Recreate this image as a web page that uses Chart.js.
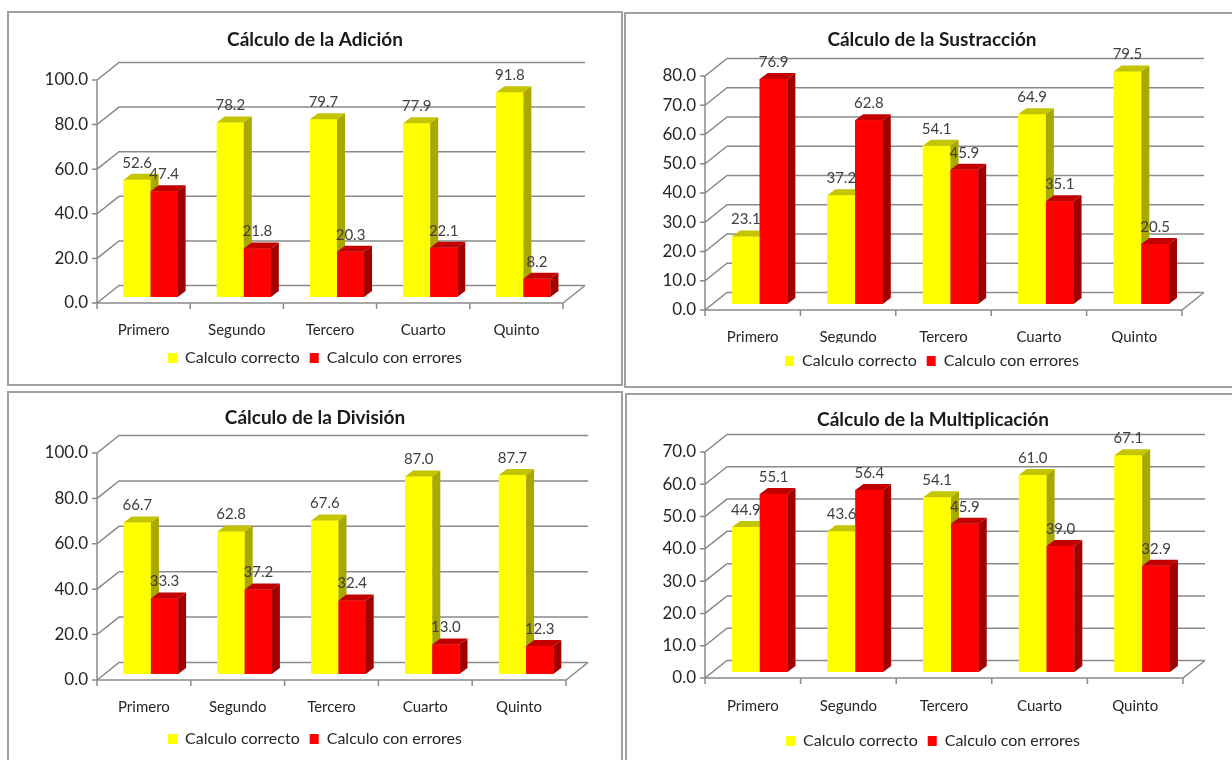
<!DOCTYPE html>
<html>
<head>
<meta charset="utf-8">
<script src="https://cdn.jsdelivr.net/npm/chart.js@4.4.1/dist/chart.umd.min.js"></script>
<style>
  html, body { margin: 0; padding: 0; background: #fff; overflow: hidden; }
  body { width: 1232px; height: 760px; position: relative; }
  .panel { position: absolute; box-sizing: border-box; border: 2px solid #a0a0a0; background: #fff; }
  .panel canvas { position: absolute; left: 0; top: 0; }
</style>
</head>
<body>
<div class="panel" id="p1"><canvas id="c1"></canvas></div>
<div class="panel" id="p2"><canvas id="c2"></canvas></div>
<div class="panel" id="p3"><canvas id="c3"></canvas></div>
<div class="panel" id="p4"><canvas id="c4"></canvas></div>
<script>
// data
var categories = ["Primero", "Segundo", "Tercero", "Cuarto", "Quinto"];
var seriesNames = ["Calculo correcto", "Calculo con errores"];

var adicionCorrecto = [52.6, 78.2, 79.7, 77.9, 91.8];
var adicionErrores = [47.4, 21.8, 20.3, 22.1, 8.2];
var adicionTicks = [0, 20, 40, 60, 80, 100];

var sustraccionCorrecto = [23.1, 37.2, 54.1, 64.9, 79.5];
var sustraccionErrores = [76.9, 62.8, 45.9, 35.1, 20.5];
var sustraccionTicks = [0, 10, 20, 30, 40, 50, 60, 70, 80];

var divisionCorrecto = [66.7, 62.8, 67.6, 87.0, 87.7];
var divisionErrores = [33.3, 37.2, 32.4, 13.0, 12.3];
var divisionTicks = [0, 20, 40, 60, 80, 100];

var multiplicacionCorrecto = [44.9, 43.6, 54.1, 61.0, 67.1];
var multiplicacionErrores = [55.1, 56.4, 45.9, 39.0, 32.9];
var multiplicacionTicks = [0, 10, 20, 30, 40, 50, 60, 70];

// colours: front, top, side
var faceColors = [
  { front: "#FFFF00", top: "#c4c400", side: "#a8a800" },
  { front: "#FF0000", top: "#c20000", side: "#a00000" }
];

// 3d offsets relative to the bar plane (chart area)
var depth = { fx: -7, fy: 6, bx: 15, by: -11.5, dx: 8, dy: -6 };

Chart.defaults.font.family = "Lato, 'Liberation Sans', sans-serif";

var frame3d = {
  id: "frame3d",
  beforeDatasetsDraw: function (chart) {
    var ctx = chart.ctx, a = chart.chartArea;
    var xs = chart.scales.x, ys = chart.scales.y;
    var n = chart.data.labels.length;
    var fl = a.left + depth.fx, fr = a.right + depth.fx;
    var bl = a.left + depth.bx, br = a.right + depth.bx;
    var y0 = ys.getPixelForValue(0), yt = ys.getPixelForValue(ys.max);
    ctx.save();
    ctx.strokeStyle = "#8a8a8a";
    ctx.lineWidth = 1.5;
    ctx.beginPath();
    ys.ticks.forEach(function (t) {
      var py = ys.getPixelForValue(t.value);
      ctx.moveTo(fl - 5, py + depth.fy);
      ctx.lineTo(fl, py + depth.fy);
      ctx.lineTo(bl, py + depth.by);
      ctx.lineTo(br, py + depth.by);
    });
    ctx.moveTo(fl, yt + depth.fy);
    ctx.lineTo(fl, y0 + depth.fy);
    ctx.lineTo(fr, y0 + depth.fy);
    ctx.lineTo(br, y0 + depth.by);
    var catW = xs.getPixelForValue(1) - xs.getPixelForValue(0);
    var start = xs.getPixelForValue(0) - catW / 2 + depth.fx;
    for (var k = 0; k <= n; k++) {
      var px = start + k * catW;
      ctx.moveTo(px, y0 + depth.fy);
      ctx.lineTo(px, y0 + depth.fy + 6);
    }
    ctx.stroke();
    ctx.restore();
  },
  afterDatasetsDraw: function (chart) {
    var ctx = chart.ctx;
    var n = chart.data.labels.length;
    var metas = chart.data.datasets.map(function (d, i) { return chart.getDatasetMeta(i); });
    ctx.save();
    for (var j = 0; j < n; j++) {
      metas.forEach(function (meta, i) {
        var p = meta.data[j].getProps(["x", "y", "base", "width"], true);
        var l = p.x - p.width / 2, r = p.x + p.width / 2;
        var c = faceColors[i];
        ctx.fillStyle = c.front;
        ctx.fillRect(l, p.y, p.width, p.base - p.y);
        ctx.fillStyle = c.top;
        ctx.beginPath();
        ctx.moveTo(l, p.y);
        ctx.lineTo(l + depth.dx, p.y + depth.dy);
        ctx.lineTo(r + depth.dx, p.y + depth.dy);
        ctx.lineTo(r, p.y);
        ctx.closePath();
        ctx.fill();
        ctx.fillStyle = c.side;
        ctx.beginPath();
        ctx.moveTo(r, p.y);
        ctx.lineTo(r + depth.dx, p.y + depth.dy);
        ctx.lineTo(r + depth.dx, p.base + depth.dy);
        ctx.lineTo(r, p.base);
        ctx.closePath();
        ctx.fill();
      });
    }
    // value labels
    ctx.font = "15px Lato, 'Liberation Sans', sans-serif";
    ctx.fillStyle = "#404040";
    ctx.textAlign = "center";
    ctx.textBaseline = "middle";
    metas.forEach(function (meta, i) {
      meta.data.forEach(function (bar, j) {
        var v = chart.data.datasets[i].data[j];
        ctx.fillText(v.toFixed(1), bar.x, bar.y - 17);
      });
    });
    ctx.restore();
  }
};

function makeChart(cfg) {
  var panel = document.getElementById(cfg.panel);
  panel.style.left = cfg.box[0] + "px";
  panel.style.top = cfg.box[1] + "px";
  panel.style.width = cfg.box[2] + "px";
  panel.style.height = cfg.box[3] + "px";
  var ox = cfg.box[0] + 2, oy = cfg.box[1] + 2;
  var W = cfg.box[2] - 4, H = cfg.box[3] - 4;
  var canvas = document.getElementById(cfg.canvas);
  canvas.width = W;
  canvas.height = H;

  var barLeft = cfg.x0 - depth.fx - ox;
  var barRight = cfg.x1 - depth.fx - ox;
  var barBottom = cfg.y0 - depth.fy - oy;
  var barTop = cfg.ytop - depth.fy - oy;
  var titleSize = 19, titleLine = titleSize * 1.2;
  var titlePadTop = cfg.titleY - oy - titleLine / 2;
  var titlePadBottom = barTop - titlePadTop - titleLine;
  var xPad = cfg.labelY - oy - barBottom - 9;
  var legendPad = 10, legendItem = 16;
  var xHeight = cfg.legendY - oy - barBottom - legendPad - legendItem / 2;
  var legendHeight = legendItem + legendPad + 10;
  var padBottom = H - barBottom - xHeight - legendHeight;
  var ticks = cfg.ticks;

  return new Chart(canvas, {
    type: "bar",
    data: {
      labels: categories,
      datasets: [
        { label: seriesNames[0], data: cfg.correcto, backgroundColor: faceColors[0].front, borderWidth: 0 },
        { label: seriesNames[1], data: cfg.errores, backgroundColor: faceColors[1].front, borderWidth: 0 }
      ]
    },
    options: {
      responsive: false,
      animation: false,
      devicePixelRatio: 1,
      categoryPercentage: 0.58,
      barPercentage: 1,
      layout: { padding: { left: 0, right: 0, top: 0, bottom: padBottom } },
      plugins: {
        title: {
          display: true,
          text: cfg.title,
          color: "#1a1a1a",
          font: { size: titleSize, weight: "bold" },
          padding: { top: titlePadTop, bottom: titlePadBottom }
        },
        legend: {
          position: "bottom",
          labels: {
            boxWidth: 9,
            boxHeight: 10,
            padding: legendPad,
            color: "#262626",
            font: { size: legendItem }
          }
        },
        tooltip: { enabled: false }
      },
      scales: {
        x: {
          grid: { display: false, drawTicks: false },
          border: { display: false },
          ticks: { padding: xPad, labelOffset: depth.fx, color: "#262626", font: { size: 15 }, maxRotation: 0, autoSkip: false },
          afterFit: function (s) { s.height = xHeight; }
        },
        y: {
          min: ticks[0],
          max: ticks[ticks.length - 1],
          grid: { display: false, drawTicks: false },
          border: { display: false },
          ticks: {
            stepSize: ticks[1] - ticks[0],
            padding: 16,
            labelOffset: depth.fy,
            color: "#262626",
            font: { size: 17 },
            callback: function (v) { return Number(v).toFixed(1); }
          },
          afterFit: function (s) { s.width = barLeft; }
        },
        y2: {
          position: "right",
          grid: { display: false, drawTicks: false },
          border: { display: false },
          ticks: { display: false },
          afterFit: function (s) { s.width = W - barRight; }
        }
      }
    },
    plugins: [frame3d]
  });
}

makeChart({ panel: "p1", canvas: "c1", title: "Cálculo de la Adición",
  correcto: adicionCorrecto, errores: adicionErrores, ticks: adicionTicks,
  box: [7, 11, 616, 375], x0: 97, x1: 563, y0: 303, ytop: 80, titleY: 40, labelY: 330, legendY: 358 });
makeChart({ panel: "p2", canvas: "c2", title: "Cálculo de la Sustracción",
  correcto: sustraccionCorrecto, errores: sustraccionErrores, ticks: sustraccionTicks,
  box: [624, 12, 616, 376], x0: 705, x1: 1182, y0: 310, ytop: 76, titleY: 40, labelY: 337, legendY: 361 });
makeChart({ panel: "p3", canvas: "c3", title: "Cálculo de la División",
  correcto: divisionCorrecto, errores: divisionErrores, ticks: divisionTicks,
  box: [7, 391, 616, 380], x0: 97, x1: 566, y0: 680, ytop: 453, titleY: 418, labelY: 707, legendY: 739 });
makeChart({ panel: "p4", canvas: "c4", title: "Cálculo de la Multiplicación",
  correcto: multiplicacionCorrecto, errores: multiplicacionErrores, ticks: multiplicacionTicks,
  box: [625, 393, 616, 380], x0: 705, x1: 1183, y0: 678, ytop: 452, titleY: 420, labelY: 706, legendY: 741 });
</script>
</body>
</html>
